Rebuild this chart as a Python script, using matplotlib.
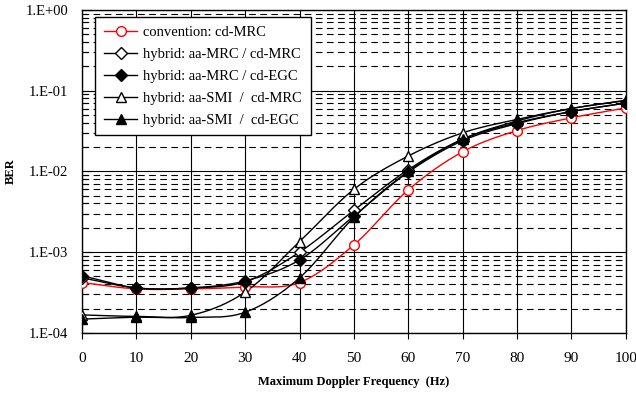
import numpy as np
import matplotlib
matplotlib.use("Agg")
import matplotlib.pyplot as plt
from matplotlib.ticker import FixedLocator, FuncFormatter, LogLocator, NullFormatter

plt.rcParams['font.family'] = ['Liberation Serif', 'DejaVu Serif']

freq = [0, 10, 20, 30, 40, 50, 60, 70, 80, 90, 100]
conv_mrc = [4.2e-4, 3.5e-4, 3.5e-4, 3.7e-4, 4.2e-4, 1.23e-3, 5.9e-3, 1.75e-2, 3.2e-2, 4.6e-2, 6.1e-2]
aamrc_cdmrc = [4.8e-4, 3.6e-4, 3.6e-4, 4.3e-4, 1.0e-3, 3.3e-3, 1.05e-2, 2.5e-2, 4.0e-2, 5.5e-2, 7.0e-2]
aamrc_cdegc = [5.1e-4, 3.6e-4, 3.6e-4, 4.4e-4, 8.0e-4, 2.8e-3, 9.8e-3, 2.4e-2, 3.9e-2, 5.5e-2, 7.0e-2]
aasmi_cdmrc = [1.67e-4, 1.6e-4, 1.65e-4, 3.2e-4, 1.35e-3, 6.0e-3, 1.55e-2, 3.0e-2, 4.4e-2, 6.0e-2, 7.6e-2]
aasmi_cdegc = [1.48e-4, 1.56e-4, 1.55e-4, 1.8e-4, 4.8e-4, 2.7e-3, 1.0e-2, 2.5e-2, 4.2e-2, 6.0e-2, 7.5e-2]

labels = ["convention: cd-MRC",
          "hybrid: aa-MRC / cd-MRC",
          "hybrid: aa-MRC / cd-EGC",
          "hybrid: aa-SMI  /  cd-MRC",
          "hybrid: aa-SMI  /  cd-EGC"]


def smooth(x, y, n=20):
    # Catmull-Rom style smoothing (like Excel's smoothed line), done in log space
    x = np.asarray(x, float)
    ly = np.log10(y)
    px = np.concatenate([[2 * x[0] - x[1]], x, [2 * x[-1] - x[-2]]])
    py = np.concatenate([[2 * ly[0] - ly[1]], ly, [2 * ly[-1] - ly[-2]]])
    xs, ys = [], []
    t = np.linspace(0, 1, n, endpoint=False)
    for i in range(1, len(px) - 2):
        for p, out in ((px, xs), (py, ys)):
            p0, p1, p2, p3 = p[i - 1], p[i], p[i + 1], p[i + 2]
            out.extend(0.5 * ((2 * p1) + (-p0 + p2) * t
                              + (2 * p0 - 5 * p1 + 4 * p2 - p3) * t ** 2
                              + (-p0 + 3 * p1 - 3 * p2 + p3) * t ** 3))
    xs.append(x[-1])
    ys.append(ly[-1])
    return np.array(xs), 10 ** np.array(ys)


fig = plt.figure(figsize=(6.36, 3.93), dpi=100)
ax = fig.add_axes([0.129, 0.153, 0.855, 0.822])

series = [
    (conv_mrc, dict(color='red', marker='o', mfc='white', mec='red', ms=7)),
    (aamrc_cdmrc, dict(color='black', marker='D', mfc='white', mec='black', ms=6)),
    (aamrc_cdegc, dict(color='black', marker='D', mfc='black', mec='black', ms=6)),
    (aasmi_cdmrc, dict(color='black', marker='^', mfc='white', mec='black', ms=7)),
    (aasmi_cdegc, dict(color='black', marker='^', mfc='black', mec='black', ms=7)),
]

for (vals, st), lab in zip(series, labels):
    sx, sy = smooth(freq, vals)
    ax.plot(sx, sy, color=st['color'], lw=1.0, zorder=3)
    ax.plot(freq, vals, ls='none', marker=st['marker'], mfc=st['mfc'],
            mec=st['mec'], ms=st['ms'], mew=1.0, zorder=4)
    ax.plot([], [], color=st['color'], lw=1.0, marker=st['marker'], mfc=st['mfc'],
            mec=st['mec'], ms=st['ms'], mew=1.0, label=lab)

ax.set_yscale('log')
ax.set_ylim(1e-4, 1)
ax.set_xlim(0, 100)
ax.xaxis.set_major_locator(FixedLocator(freq))
ax.yaxis.set_major_locator(LogLocator(base=10, numticks=10))
ax.yaxis.set_minor_locator(LogLocator(base=10, subs=np.arange(2, 10), numticks=20))
ax.yaxis.set_minor_formatter(NullFormatter())
ax.yaxis.set_major_formatter(FuncFormatter(lambda v, p: "1.E%+03d" % int(round(np.log10(v)))))

ax.grid(True, which='major', axis='both', color='black', lw=0.8)
ax.grid(True, which='minor', axis='y', color='black', lw=0.8, ls=(0, (6, 4)))
ax.tick_params(axis='y', which='major', direction='in', length=7, width=0.8,
               labelsize=10.5, pad=10)
ax.tick_params(axis='y', which='minor', direction='in', length=4, width=0.8)
ax.tick_params(axis='x', which='major', direction='out', length=4, width=0.8, labelsize=11, pad=10)
for s in ax.spines.values():
    s.set_linewidth(1.0)

ax.set_ylabel("BER", fontsize=9, fontweight='bold', labelpad=6)
ax.set_xlabel("Maximum Doppler Frequency  (Hz)", fontsize=9, fontweight='bold', labelpad=8)

leg = ax.legend(loc='upper left', bbox_to_anchor=(0.024, 0.978), fontsize=10.5,
                fancybox=False, framealpha=1, edgecolor='black', borderpad=0.6,
                handlelength=2.3, handletextpad=0.4, labelspacing=0.6,
                borderaxespad=0.0)
leg.get_frame().set_linewidth(1.0)
leg.set_zorder(5)

fig.savefig("out.png", dpi=100)
